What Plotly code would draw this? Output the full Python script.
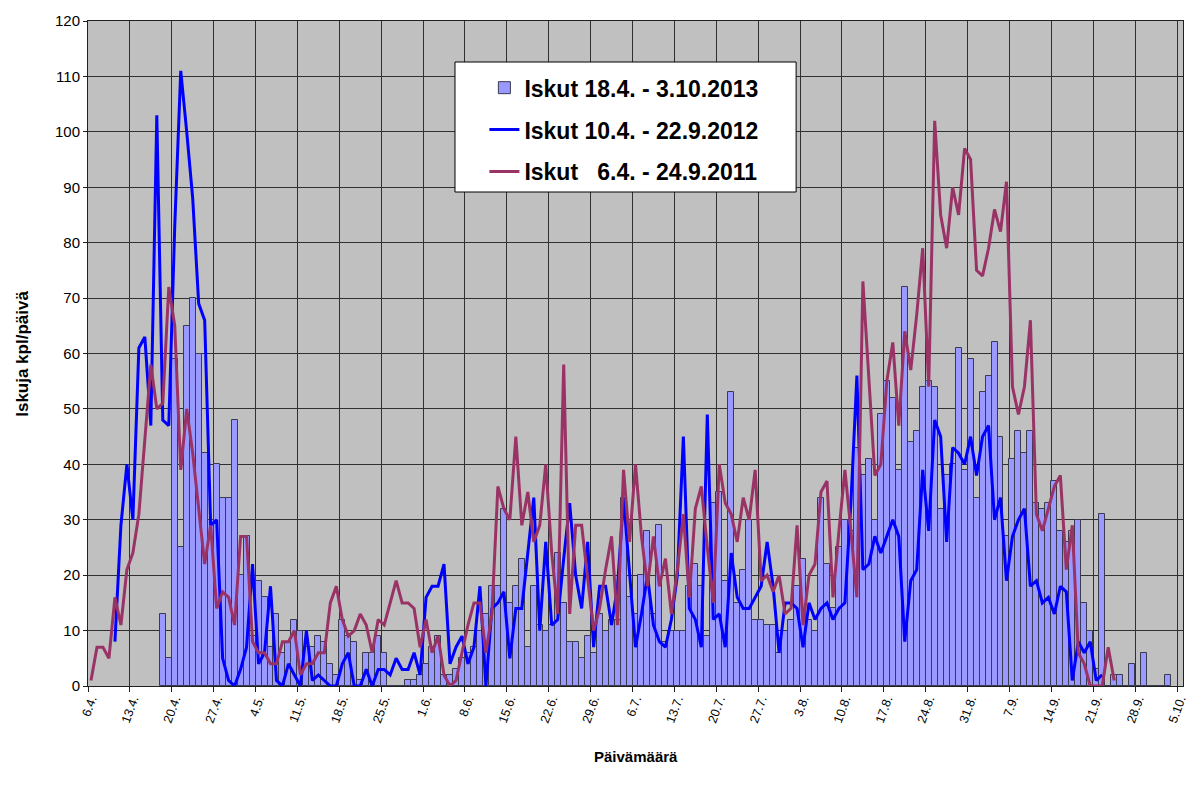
import plotly.graph_objects as go

# ---------------- data (one value per day, day 0 = 6.4.) ----------------
tick_labels = ["6.4.", "13.4.", "20.4.", "27.4.", "4.5.", "11.5.", "18.5.", "25.5.",
               "1.6.", "8.6.", "15.6.", "22.6.", "29.6.", "6.7.", "13.7.", "20.7.",
               "27.7.", "3.8.", "10.8.", "17.8.", "24.8.", "31.8.", "7.9.", "14.9.",
               "21.9.", "28.9.", "5.10."]
n_days = 183

# 2013: 18.4. - 3.10. (starts at day 12)
start_2013 = 12
iskut_2013 = [13, 5, 59, 25, 65, 70, 60, 42,
              30, 40, 34, 34, 48, 20, 27, 9, 19, 16,
              7, 13, 6, 8, 12, 10, 7, 7, 9, 8,
              4, 2, 12, 9, 8, 1, 6, 6, 9, 6,
              0, 0, 0, 1, 1, 2, 4, 7, 9, 2,
              2, 3, 5, 6, 7, 10, 13, 18, 18, 32,
              15, 18, 23, 7, 18, 11, 10, 11, 24, 15,
              8, 8, 5, 9, 6, 13, 10, 12, 12, 34,
              16, 13, 20, 28, 13, 29, 8, 10, 10, 10,
              18, 22, 18, 9, 33, 35, 19, 53, 15, 21,
              30, 12, 12, 11, 11, 6, 10, 12, 18, 23,
              12, 10, 34, 22, 14, 25, 30, 28, 43, 38,
              41, 30, 49, 55, 52, 39, 72, 44, 46, 54,
              55, 54, 32, 38, 40, 61, 39, 59, 34, 53,
              56, 62, 45, 27, 41, 46, 42, 46, 33, 32,
              33, 37, 28, 26, 28, 30, 15, 10, 3, 31,
              0, 2, 2, 0, 4, 0, 6, 0, 0, 0, 2]

# 2012: 10.4. - 22.9. (starts at day 4)
start_2012 = 4
iskut_2012 = [8, 29, 40, 30, 61, 63,
              47, 103, 48, 47, 83, 111, 100, 88, 69, 66,
              29, 30, 5, 1, 0, 3, 7, 22, 4, 6,
              18, 1, 0, 4, 2, 0, 10, 1, 2, 1,
              0, 0, 4, 6, 0, 0, 3, 0, 3, 3,
              2, 5, 3, 3, 6, 2, 16, 18, 18, 22,
              4, 7, 9, 4, 7, 18, 0, 14, 15, 17,
              5, 14, 14, 24, 34, 10, 26, 11, 12, 23,
              33, 20, 14, 26, 7, 18, 18, 11, 18, 34,
              20, 7, 13, 20, 11, 8, 7, 12, 20, 45,
              14, 12, 7, 49, 12, 13, 7, 24, 16, 14,
              14, 16, 18, 26, 18, 6, 15, 15, 14, 7,
              15, 12, 14, 15, 12, 14, 15, 33, 56, 21,
              22, 27, 24, 27, 30, 27, 8, 19, 21, 39,
              28, 48, 45, 26, 43, 42, 40, 45, 38, 45,
              47, 30, 34, 19, 27, 30, 32, 18, 19, 15,
              16, 13, 18, 17, 1, 8, 6, 8, 1, 2]

# 2011: 6.4. - 24.9. (starts at day 0)
start_2011 = 0
iskut_2011 = [1, 7, 7, 5, 16, 11, 21, 24, 31, 45,
              58, 50, 51, 72, 65, 39, 50, 42, 32, 22,
              29, 14, 17, 16, 11, 27, 27, 8, 6, 6,
              4, 4, 8, 8, 10, 2, 4, 4, 6, 6,
              15, 18, 12, 9, 10, 13, 11, 6, 12, 11,
              15, 19, 15, 15, 14, 7, 12, 6, 9, 2,
              0, 1, 6, 11, 15, 15, 6, 13, 36, 32,
              30, 45, 29, 35, 26, 29, 40, 24, 13, 58,
              13, 29, 29, 19, 10, 14, 21, 27, 11, 39,
              26, 40, 27, 18, 27, 18, 23, 13, 21, 31,
              16, 32, 36, 25, 15, 40, 33, 31, 26, 34,
              30, 39, 19, 20, 17, 20, 13, 14, 29, 11,
              20, 22, 35, 37, 16, 28, 39, 28, 16, 73,
              55, 38, 40, 55, 62, 47, 64, 57, 67, 79,
              54, 102, 85, 79, 90, 85, 97, 95, 75, 74,
              79, 86, 82, 91, 54, 49, 54, 66, 31, 28,
              32, 36, 38, 21, 29, 6, 4, 0, 0, 0,
              7, 1]

name_2013 = "Iskut 18.4. - 3.10.2013"
name_2012 = "Iskut 10.4. - 22.9.2012"
name_2011 = "Iskut \u00a0\u00a06.4. - 24.9.2011"

# ---------------- figure ----------------
FONT = "Arial, 'Liberation Sans', sans-serif"

x13 = list(range(start_2013, start_2013 + len(iskut_2013)))
x12 = list(range(start_2012, start_2012 + len(iskut_2012)))
x11 = list(range(start_2011, start_2011 + len(iskut_2011)))

fig = go.Figure()
fig.add_trace(go.Bar(x=x13, y=iskut_2013, name=name_2013, legendgroup="a",
                     marker=dict(color="#9999FF", line=dict(color="#3a3a50", width=1))))
fig.add_trace(go.Scatter(x=x12, y=iskut_2012, name=name_2012, mode="lines", legendgroup="b",
                         line=dict(color="#0000FF", width=3)))
fig.add_trace(go.Scatter(x=x11, y=iskut_2011, name=name_2011, mode="lines", legendgroup="c",
                         line=dict(color="#993366", width=3)))

tickvals = [7 * k for k in range(len(tick_labels))]
boundaries = [7 * k - 0.5 for k in range(len(tick_labels))]

fig.update_layout(
    width=1194, height=787, autosize=False,
    margin=dict(l=88, r=5, t=21, b=101),
    paper_bgcolor="white", plot_bgcolor="#C0C0C0",
    bargap=0,
    font=dict(family=FONT, color="black"),
    showlegend=True,
    legend=dict(x=0.362, y=0.932, xanchor="left", yanchor="top",
                bgcolor="rgba(0,0,0,0)", borderwidth=0,
                font=dict(size=23, family=FONT, weight="bold"),
                tracegroupgap=9, traceorder="grouped"),
    xaxis=dict(range=[-0.5, n_days - 0.5], tickmode="array", tickvals=tickvals,
               ticktext=tick_labels, tickangle=-70, ticks="", showgrid=False,
               tickfont=dict(size=12.5), showline=True, linecolor="#202020",
               linewidth=1, mirror=True, zeroline=False, ticklabeloverflow="allow",
               minor=dict(tickmode="array", tickvals=boundaries, ticks="outside",
                          ticklen=5, tickcolor="#202020", showgrid=True,
                          gridcolor="#303030", gridwidth=1)),
    yaxis=dict(range=[0, 120], dtick=10, ticks="outside", ticklen=4,
               tickcolor="#202020", tickfont=dict(size=15), showgrid=True,
               gridcolor="#303030", gridwidth=1, showline=True, linecolor="#202020",
               linewidth=1, mirror=True, zeroline=False),
    shapes=[dict(type="rect", xref="paper", yref="paper",
                 x0=(457 - 88) / 1101, x1=(800 - 88) / 1101,
                 y0=(686 - 192) / 665, y1=(686 - 62) / 665,
                 fillcolor="white", line=dict(color="black", width=1), layer="above")],
    annotations=[
        dict(text="<b>Iskuja kpl/päivä</b>", xref="paper", yref="paper",
             x=-0.06, y=0.5, textangle=-90, showarrow=False,
             font=dict(size=17, family=FONT), xanchor="center", yanchor="middle"),
        dict(text="<b>Päivämäärä</b>", xref="paper", yref="paper",
             x=0.5, y=-0.09, showarrow=False, font=dict(size=15, family=FONT),
             xanchor="center", yanchor="top"),
    ],
)

fig.write_html("out.html", config={"displayModeBar": False},
               post_script="document.body.style.margin='0';document.body.style.overflow='hidden';")
